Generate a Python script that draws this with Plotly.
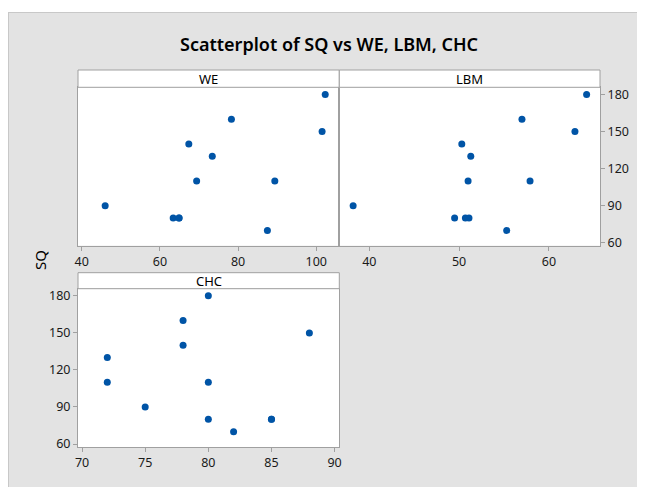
import plotly.graph_objects as go

# ---- data ----
SQ = [180, 160, 150, 140, 130, 110, 110, 90, 80, 80, 80, 70]
WE = [102.3, 78.3, 101.5, 67.4, 73.4, 69.4, 89.4, 46.0, 63.4, 64.9, 64.9, 87.5]
LBM = [64.2, 57.0, 62.9, 50.3, 51.3, 51.0, 57.9, 38.2, 49.5, 50.7, 51.1, 55.3]
CHC = [80, 78, 88, 78, 72, 72, 80, 75, 80, 85, 85, 82]
panel_names = ["WE", "LBM", "CHC"]
title_text = "Scatterplot of SQ vs WE, LBM, CHC"
y_title = "SQ"
y_ticks = [60, 90, 120, 150, 180]
we_ticks = [40, 60, 80, 100]
lbm_ticks = [40, 50, 60]
chc_ticks = [70, 75, 80, 85, 90]

# ---- layout geometry (page pixels; figure sits at page offset OFF) ----
OFF = 8
W, H = 645 - OFF, 487 - OFF
L, R, T, B = 78, 600, 70, 447          # page coords of plot area
PW, PH = R - L, B - T
def px(x):
    return (x - L) / PW
def py(y):
    return (B - y) / PH

mid = 339.3
top_strip_top, top_strip_bot, top_bot = 70, 87.3, 245.7
bot_strip_top, bot_strip_bot, bot_bot = 272.7, 288.7, 447

BLUE = "#0054A6"
GRID = "#A0A0A0"
FONT = "Noto Sans"
BG = "#E3E3E3"

fig = go.Figure()
marker = dict(color=BLUE, size=7, line=dict(width=0))
fig.add_trace(go.Scatter(x=WE, y=SQ, mode="markers", marker=marker, xaxis="x", yaxis="y", showlegend=False))
fig.add_trace(go.Scatter(x=LBM, y=SQ, mode="markers", marker=marker, xaxis="x2", yaxis="y2", showlegend=False))
fig.add_trace(go.Scatter(x=CHC, y=SQ, mode="markers", marker=marker, xaxis="x3", yaxis="y3", showlegend=False))

yr = [57.6, 185.8]
axcommon = dict(showgrid=False, zeroline=False, showline=True, mirror=True, linecolor=GRID,
                linewidth=1, ticks="outside", ticklen=4, tickcolor=GRID,
                tickfont=dict(family=FONT, size=12.5, color="#1A1A1A"))

fig.update_layout(
    width=W, height=H,
    margin=dict(l=L - OFF, r=(W + OFF) - R, t=T - OFF, b=(H + OFF) - B),
    paper_bgcolor=BG, plot_bgcolor="white",
    font=dict(family=FONT),
    xaxis=dict(axcommon, domain=[0, px(mid)], range=[39.05, 105.9], tickvals=we_ticks, anchor="y"),
    yaxis=dict(axcommon, domain=[py(top_bot), py(top_strip_bot)], range=yr, tickvals=y_ticks,
               showticklabels=False, ticks="", anchor="x"),
    xaxis2=dict(axcommon, domain=[px(mid), 1], range=[36.66, 65.69], tickvals=lbm_ticks, anchor="y2"),
    yaxis2=dict(axcommon, domain=[py(top_bot), py(top_strip_bot)], range=yr, tickvals=y_ticks,
                side="right", anchor="x2"),
    xaxis3=dict(axcommon, domain=[0, px(mid)], range=[69.68, 90.37], tickvals=chc_ticks, anchor="y3"),
    yaxis3=dict(axcommon, domain=[0, py(bot_strip_bot)], range=yr, tickvals=y_ticks, anchor="x3"),
)

shapes = []
annotations = []
# thin white band at top of page + light border
shapes.append(dict(type="rect", xref="paper", yref="paper", x0=px(0), x1=px(W + 20), y0=py(12), y1=py(0),
                   fillcolor="white", line=dict(width=0), layer="below"))
shapes.append(dict(type="line", xref="paper", yref="paper", x0=px(8), x1=px(W + 20), y0=py(12.5), y1=py(12.5),
                   line=dict(color="#C8C8C8", width=1)))
shapes.append(dict(type="line", xref="paper", yref="paper", x0=px(8.5), x1=px(8.5), y0=py(H + 20), y1=py(12),
                   line=dict(color="#C8C8C8", width=1)))

strips = [
    (panel_names[0], 0, px(mid), py(top_strip_bot), py(top_strip_top)),
    (panel_names[1], px(mid), 1, py(top_strip_bot), py(top_strip_top)),
    (panel_names[2], 0, px(mid), py(bot_strip_bot), py(bot_strip_top)),
]
for name, x0, x1, y0, y1 in strips:
    shapes.append(dict(type="rect", xref="paper", yref="paper", x0=x0, x1=x1, y0=y0, y1=y1,
                       fillcolor="white", line=dict(color=GRID, width=1)))
    annotations.append(dict(text=name, xref="paper", yref="paper", x=(x0 + x1) / 2, y=(y0 + y1) / 2,
                            showarrow=False, xanchor="center", yanchor="middle",
                            font=dict(family=FONT, size=13, color="black")))

annotations.append(dict(text=title_text, xref="paper", yref="paper", x=px(329), y=py(44),
                        showarrow=False, xanchor="center", yanchor="middle",
                        font=dict(family=FONT, size=18, color="black", weight=600)))
annotations.append(dict(text=y_title, xref="paper", yref="paper", x=px(40), y=py(260), textangle=-90,
                        showarrow=False, xanchor="center", yanchor="middle",
                        font=dict(family=FONT, size=15, color="black")))

fig.update_layout(shapes=shapes, annotations=annotations)
fig.write_html("out.html")
